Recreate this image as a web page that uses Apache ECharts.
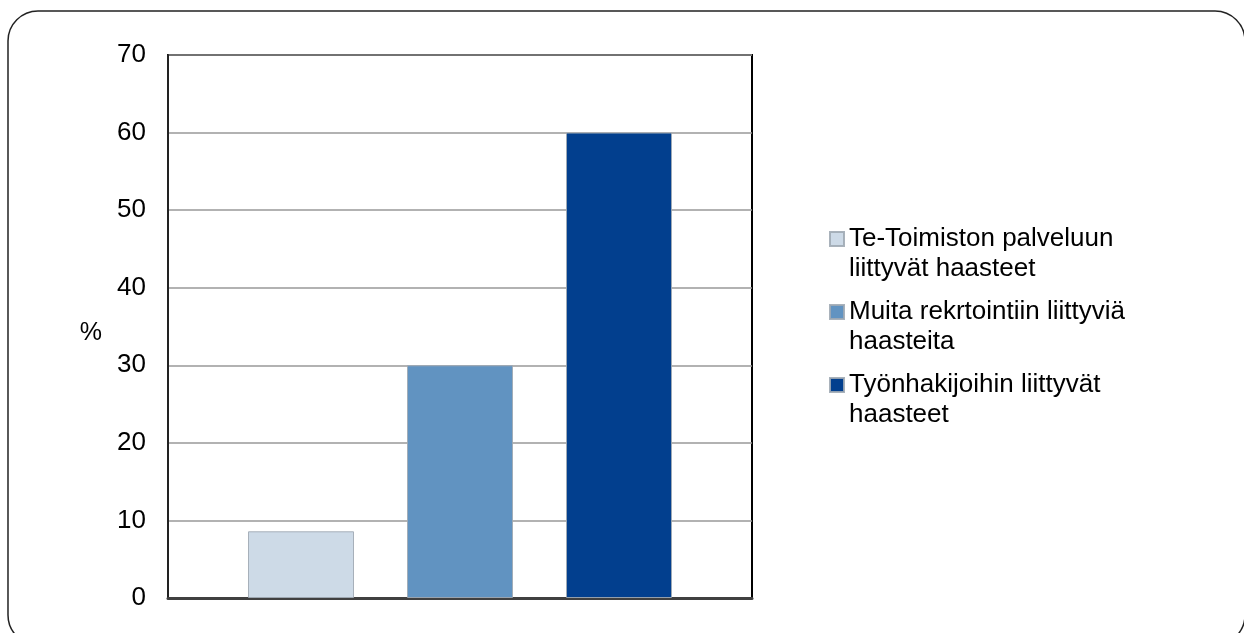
<!DOCTYPE html>
<html>
<head>
<meta charset="utf-8">
<script src="https://cdn.jsdelivr.net/npm/echarts@6/dist/echarts.min.js"></script>
<style>
  html, body { margin: 0; padding: 0; background: #fff; }
  #chart { width: 1244px; height: 633px; }
</style>
</head>
<body>
<div id="chart"></div>
<script>
const categories = [''];
const seriesNames = [
  'Te-Toimiston palveluun\nliittyvät haasteet',
  'Muita rekrtointiin liittyviä\nhaasteita',
  'Työnhakijoihin liittyvät\nhaasteet'
];
const seriesValues = [8.6, 30, 60];
const seriesColors = ['#CDDAE7', '#6193C1', '#023F8E'];
const yTicks = { min: 0, max: 70, interval: 10 };
const yName = '%';

const FONT = 'Liberation Sans, Arial, sans-serif';
const chart = echarts.init(document.getElementById('chart'));

const series = seriesNames.map((name, i) => ({
  name: name,
  type: 'bar',
  data: [seriesValues[i]],
  barWidth: 106,
  barGap: '50%',
  itemStyle: { color: seriesColors[i], borderColor: 'rgba(160,170,180,0.9)', borderWidth: 1 }
}));

chart.setOption({
  animation: false,
  backgroundColor: '#fff',
  graphic: [{
    type: 'rect',
    z: -10,
    shape: { x: 8, y: 11, width: 1237, height: 634, r: 30 },
    style: { fill: 'none', stroke: '#222', lineWidth: 1.5 }
  }],
  grid: {
    left: 168, top: 55, right: 492, bottom: 35,
    show: true, borderColor: '#000', borderWidth: 2, backgroundColor: 'transparent'
  },
  legend: {
    orient: 'vertical',
    left: 829,
    top: 194,
    padding: 0,
    itemWidth: 14,
    itemHeight: 14,
    itemGap: -17,
    icon: 'rect',
    selectedMode: false,
    data: seriesNames,
    formatter: name => '\n' + name,
    textStyle: {
      fontFamily: FONT, fontSize: 26, color: '#000', lineHeight: 30
    }
  },
  xAxis: {
    type: 'category',
    data: categories,
    axisLine: { lineStyle: { color: '#404040', width: 3 } },
    axisTick: { show: false },
    axisLabel: { show: false },
    splitLine: { show: false }
  },
  yAxis: {
    type: 'value',
    min: yTicks.min, max: yTicks.max, interval: yTicks.interval,
    name: '{n|' + yName + '}',
    nameLocation: 'middle',
    nameRotate: 0,
    nameGap: 66,
    nameTextStyle: {
      fontFamily: FONT, fontSize: 25, color: '#000',
      rich: { n: { fontFamily: FONT, fontSize: 25, color: '#000', padding: [14, 0, 0, 0] } }
    },
    axisLine: { show: true, lineStyle: { color: '#222', width: 2 } },
    axisTick: { show: false },
    axisLabel: { fontFamily: FONT, fontSize: 26, color: '#000', margin: 22 },
    splitLine: { lineStyle: { color: '#999', width: 1.5 } }
  },
  series: series
});
</script>
</body>
</html>
